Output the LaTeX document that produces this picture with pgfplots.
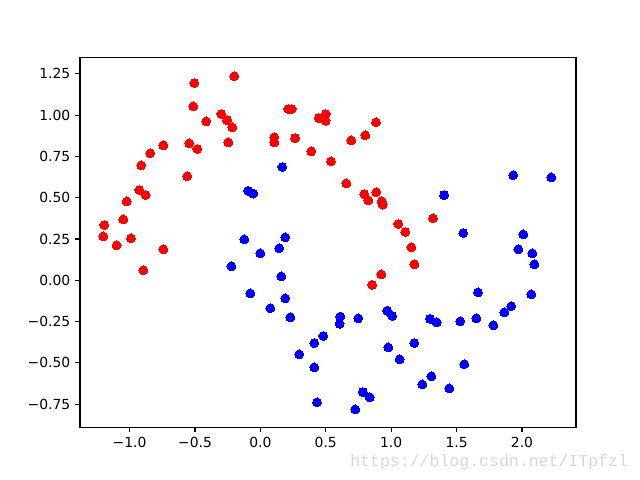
\documentclass[border=0pt]{standalone}
\usepackage{pgfplots}
\pgfplotsset{compat=1.18}
\usepackage{fontspec}
\setmainfont{DejaVu Sans}
\newfontfamily\wmfont{Liberation Mono}
\definecolor{wmgray}{RGB}{214,214,214}

\begin{document}
\begin{tikzpicture}
\path (0,0) rectangle (460.8pt,345.6pt);
\begin{axis}[
    at={(57.6pt,38.016pt)},
    anchor=south west,
    scale only axis,
    width=357.12pt,
    height=266.11pt,
    xmin=-1.379, xmax=2.413,
    ymin=-0.889, ymax=1.348,
    axis line style={line width=0.8pt},
    tick align=outside,
    xtick pos=bottom,
    ytick pos=left,
    major tick length=3.5pt,
    tick style={line width=0.8pt, black},
    xtick={-1,-0.5,0,0.5,1,1.5,2},
    xticklabels={−1.0,−0.5,0.0,0.5,1.0,1.5,2.0},
    ytick={-0.75,-0.5,-0.25,0,0.25,0.5,0.75,1,1.25},
    yticklabels={−0.75,−0.50,−0.25,0.00,0.25,0.50,0.75,1.00,1.25},
    ticklabel style={font=\fontsize{10pt}{12pt}\selectfont},
    clip=false,
]

% class 0 (upper moon)
\addplot[only marks, color=red, mark=*, mark size=3.2pt, mark options={draw=red, fill=red, line width=0pt}] coordinates {
    (-0.200,1.235) (-0.505,1.194) (-0.513,1.053) (-0.299,1.007) (-0.255,0.970)
    (-0.215,0.926) (-0.414,0.962) (0.106,0.866) (0.106,0.835) (-0.245,0.835)
    (-0.544,0.829) (-0.482,0.795) (-0.742,0.817) (-0.842,0.769) (-0.911,0.696)
    (-0.559,0.630) (-0.926,0.547) (-0.877,0.516) (-1.022,0.478) (-1.048,0.369)
    (-1.193,0.335) (-1.201,0.266) (-1.099,0.212) (-0.989,0.254) (-0.742,0.188)
    (-0.895,0.061) (0.213,1.037) (0.239,1.037) (0.448,0.982) (0.499,1.007)
    (0.499,0.966) (0.884,0.956) (0.265,0.861) (0.802,0.878) (0.695,0.847)
    (0.389,0.781) (0.540,0.720) (0.657,0.587) (0.794,0.522) (0.886,0.533)
    (0.825,0.484) (0.927,0.478) (0.935,0.458) (1.320,0.375) (1.054,0.341)
    (1.108,0.292) (1.154,0.200) (1.177,0.097) (0.924,0.036) (0.855,-0.027)
};

% class 1 (lower moon)
\addplot[only marks, color=blue, mark=*, mark size=3.2pt, mark options={draw=blue, fill=blue, line width=0pt}] coordinates {
    (0.167,0.686) (-0.093,0.541) (-0.054,0.525) (-0.123,0.248) (0.190,0.260)
    (0.144,0.194) (-0.001,0.163) (-0.222,0.085) (0.160,0.024) (-0.077,-0.079)
    (0.190,-0.109) (0.076,-0.169) (0.229,-0.224) (0.611,-0.220) (0.606,-0.263)
    (0.748,-0.230) (0.970,-0.184) (1.008,-0.216) (0.481,-0.337) (0.412,-0.380)
    (0.297,-0.448) (0.978,-0.406) (1.065,-0.478) (0.412,-0.527) (0.784,-0.676)
    (0.836,-0.708) (0.433,-0.738) (0.726,-0.781) (1.404,0.516) (1.551,0.286)
    (1.933,0.636) (2.224,0.623) (2.010,0.278) (1.972,0.188) (2.079,0.163)
    (2.094,0.097) (1.664,-0.073) (2.071,-0.085) (1.918,-0.157) (1.865,-0.194)
    (1.297,-0.234) (1.348,-0.254) (1.528,-0.248) (1.651,-0.230) (1.781,-0.272)
    (1.177,-0.380) (1.559,-0.508) (1.307,-0.581) (1.238,-0.630) (1.444,-0.654)
};
\end{axis}
\node[anchor=base west, inner sep=0pt, text=wmgray,
      font=\wmfont\fontsize{11.9pt}{14pt}\selectfont] at (252pt,9.4pt) {https://blog.csdn.net/ITpfzl};
\end{tikzpicture}
\end{document}
